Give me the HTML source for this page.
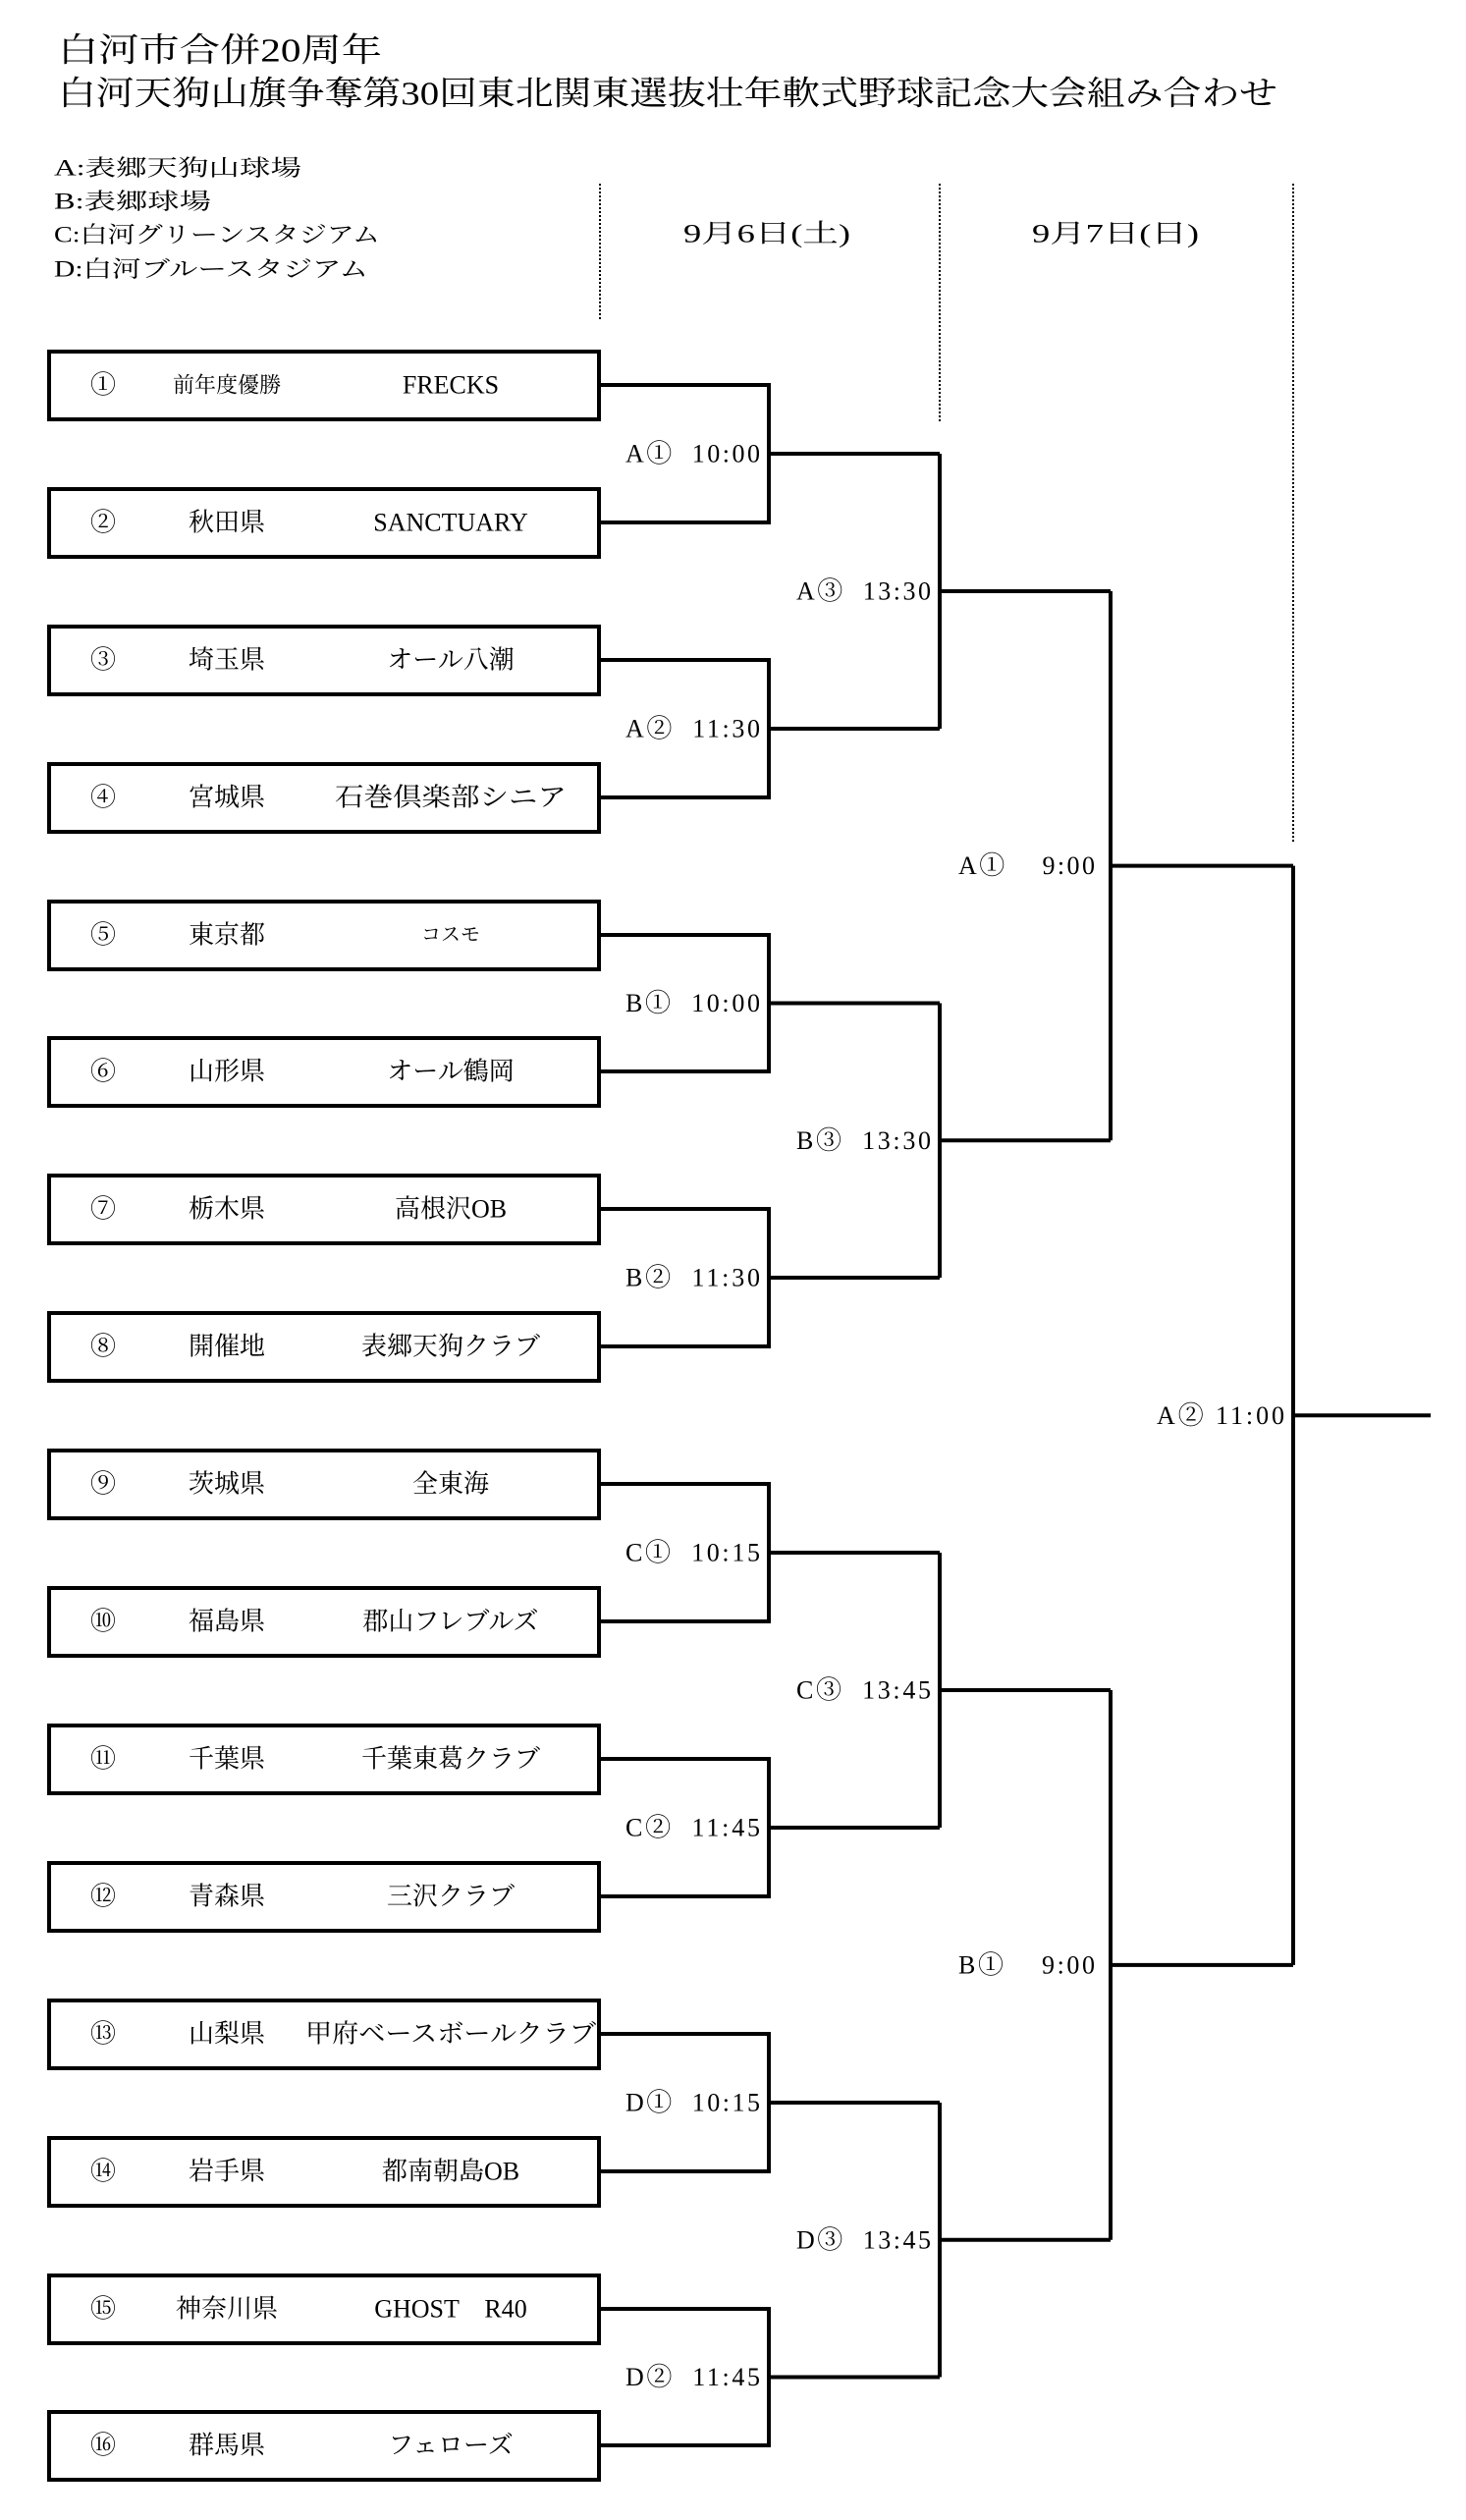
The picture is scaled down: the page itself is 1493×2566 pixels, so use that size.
<!DOCTYPE html>
<html><head><meta charset="utf-8"><style>
html,body{margin:0;padding:0;background:#fff}
svg{display:block}
text{font-family:"Liberation Serif","Noto Serif CJK JP","Noto Sans CJK JP",serif;fill:#000;dominant-baseline:central;white-space:pre}
</style></head><body>
<svg width="1493" height="2566" viewBox="0 0 1493 2566" xmlns="http://www.w3.org/2000/svg">
<text x="59" y="52" font-size="34" textLength="330" lengthAdjust="spacingAndGlyphs">白河市合併20周年</text>
<text x="59" y="96" font-size="34" textLength="1242" lengthAdjust="spacingAndGlyphs">白河天狗山旗争奪第30回東北関東選抜壮年軟式野球記念大会組み合わせ</text>
<g font-size="23">
<text x="55" y="171" textLength="252" lengthAdjust="spacingAndGlyphs">A:表郷天狗山球場</text>
<text x="55" y="205" textLength="160" lengthAdjust="spacingAndGlyphs">B:表郷球場</text>
<text x="55" y="239" textLength="332" lengthAdjust="spacingAndGlyphs">C:白河グリーンスタジアム</text>
<text x="55" y="274" textLength="320" lengthAdjust="spacingAndGlyphs">D:白河ブルースタジアム</text>
</g>
<g font-size="26" text-anchor="middle">
<text x="781" y="238" textLength="170" lengthAdjust="spacingAndGlyphs">9月6日(土)</text>
<text x="1136" y="238" textLength="170" lengthAdjust="spacingAndGlyphs">9月7日(日)</text>
</g>
<g stroke="#000" stroke-width="2" stroke-dasharray="2,2">
<line x1="611" y1="187" x2="611" y2="327"/>
<line x1="957" y1="187" x2="957" y2="431"/>
<line x1="1317" y1="187" x2="1317" y2="857"/>
</g>
<g fill="none" stroke="#000" stroke-width="4">
<rect x="50" y="358" width="560" height="69"/>
<rect x="50" y="498" width="560" height="69"/>
<rect x="50" y="638" width="560" height="69"/>
<rect x="50" y="778" width="560" height="69"/>
<rect x="50" y="918" width="560" height="69"/>
<rect x="50" y="1057" width="560" height="69"/>
<rect x="50" y="1197" width="560" height="69"/>
<rect x="50" y="1337" width="560" height="69"/>
<rect x="50" y="1477" width="560" height="69"/>
<rect x="50" y="1617" width="560" height="69"/>
<rect x="50" y="1757" width="560" height="69"/>
<rect x="50" y="1897" width="560" height="69"/>
<rect x="50" y="2037" width="560" height="69"/>
<rect x="50" y="2177" width="560" height="69"/>
<rect x="50" y="2317" width="560" height="69"/>
<rect x="50" y="2456" width="560" height="69"/>
<path d="M612 392H783V532H612M783 462H957"/>
<path d="M612 672H783V812H612M783 742H957"/>
<path d="M612 952H783V1091H612M783 1021.5H957"/>
<path d="M612 1231H783V1371H612M783 1301H957"/>
<path d="M612 1511H783V1651H612M783 1581H957"/>
<path d="M612 1791H783V1931H612M783 1861H957"/>
<path d="M612 2071H783V2211H612M783 2141H957"/>
<path d="M612 2351H783V2490H612M783 2420.5H957"/>
<path d="M957 462V742M957 602H1131"/>
<path d="M957 1021.5V1301M957 1161.25H1131"/>
<path d="M957 1581V1861M957 1721H1131"/>
<path d="M957 2141V2420.5M957 2280.75H1131"/>
<path d="M1131 602V1161.25M1131 881.6H1317"/>
<path d="M1131 1721V2280.75M1131 2000.9H1317"/>
<path d="M1317 881.6V2000.9M1317 1441.25H1457"/>
</g>
<g font-size="26">
<g text-anchor="middle">
<text x="105" y="392">①</text><text x="105" y="532">②</text><text x="105" y="672">③</text><text x="105" y="812">④</text>
<text x="105" y="952">⑤</text><text x="105" y="1091">⑥</text><text x="105" y="1231">⑦</text><text x="105" y="1371">⑧</text>
<text x="105" y="1511">⑨</text><text x="105" y="1651">⑩</text><text x="105" y="1791">⑪</text><text x="105" y="1931">⑫</text>
<text x="105" y="2071">⑬</text><text x="105" y="2211">⑭</text><text x="105" y="2351">⑮</text><text x="105" y="2490">⑯</text>
<text x="231" y="392" font-size="22">前年度優勝</text>
<text x="231" y="532">秋田県</text><text x="231" y="672">埼玉県</text><text x="231" y="812">宮城県</text>
<text x="231" y="952">東京都</text><text x="231" y="1091">山形県</text><text x="231" y="1231">栃木県</text><text x="231" y="1371">開催地</text>
<text x="231" y="1511">茨城県</text><text x="231" y="1651">福島県</text><text x="231" y="1791">千葉県</text><text x="231" y="1931">青森県</text>
<text x="231" y="2071">山梨県</text><text x="231" y="2211">岩手県</text><text x="231" y="2351">神奈川県</text><text x="231" y="2490">群馬県</text>
<text x="459" y="392">FRECKS</text>
<text x="459" y="532">SANCTUARY</text>
<text x="459" y="672">オール八潮</text>
<text x="459" y="812" textLength="236" lengthAdjust="spacingAndGlyphs">石巻倶楽部シニア</text>
<text x="459" y="952" font-size="20">コスモ</text>
<text x="459" y="1091">オール鶴岡</text>
<text x="459" y="1231">高根沢OB</text>
<text x="459" y="1371">表郷天狗クラブ</text>
<text x="459" y="1511">全東海</text>
<text x="459" y="1651">郡山フレブルズ</text>
<text x="459" y="1791">千葉東葛クラブ</text>
<text x="459" y="1931">三沢クラブ</text>
<text x="459" y="2071" textLength="296" lengthAdjust="spacingAndGlyphs">甲府ベースボールクラブ</text>
<text x="459" y="2211">都南朝島OB</text>
<text x="459" y="2351">GHOST　R40</text>
<text x="459" y="2490">フェローズ</text>
</g>
<g text-anchor="end">
<text x="774" y="462" textLength="137" lengthAdjust="spacing">A①  10:00</text>
<text x="774" y="742" textLength="137" lengthAdjust="spacing">A②  11:30</text>
<text x="774" y="1021.5" textLength="137" lengthAdjust="spacing">B①  10:00</text>
<text x="774" y="1301" textLength="137" lengthAdjust="spacing">B②  11:30</text>
<text x="774" y="1581" textLength="137" lengthAdjust="spacing">C①  10:15</text>
<text x="774" y="1861" textLength="137" lengthAdjust="spacing">C②  11:45</text>
<text x="774" y="2141" textLength="137" lengthAdjust="spacing">D①  10:15</text>
<text x="774" y="2420.5" textLength="137" lengthAdjust="spacing">D②  11:45</text>
<text x="948" y="602" textLength="137" lengthAdjust="spacing">A③  13:30</text>
<text x="948" y="1161.25" textLength="137" lengthAdjust="spacing">B③  13:30</text>
<text x="948" y="1721" textLength="137" lengthAdjust="spacing">C③  13:45</text>
<text x="948" y="2280.75" textLength="137" lengthAdjust="spacing">D③  13:45</text>
<text x="1115" y="881.6" textLength="139" lengthAdjust="spacing">A①    9:00</text>
<text x="1115" y="2000.9" textLength="139" lengthAdjust="spacing">B①    9:00</text>
<text x="1308" y="1441.25" textLength="130" lengthAdjust="spacing">A② 11:00</text>
</g>
</g>
</svg>
</body></html>
